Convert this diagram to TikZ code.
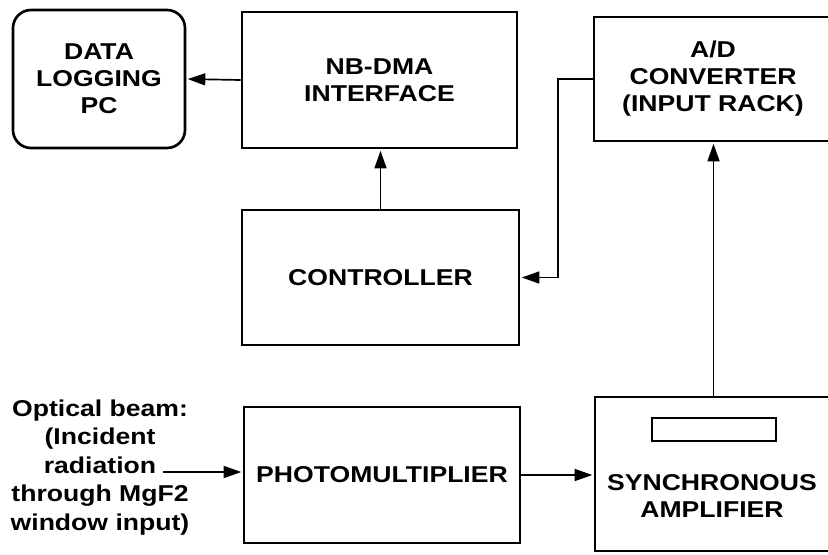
\documentclass[tikz,border=0pt]{standalone}
\usepackage{fontspec}
\setmainfont{Liberation Sans}[FakeStretch=1.16]
\usepackage{tikz}
\usetikzlibrary{shapes,arrows.meta,positioning,calc}

\begin{document}
\begin{tikzpicture}[
    box/.style={rectangle, draw, line width=1.9pt, align=center, font=\fontsize{16.3}{19.2}\selectfont\bfseries},
    pcbox/.style={box, rounded corners=0.45cm},
    display/.style={rectangle, draw, line width=1.4pt, minimum width=3.1cm, minimum height=0.575cm},
    caption/.style={align=center, font=\fontsize{16.3}{20.3}\selectfont\bfseries},
    arrow/.style={-{Triangle[length=12.5pt,width=8.5pt]}, line width=1.2pt, shorten >=1pt}
]
\useasboundingbox (0,0) rectangle (20.7,-13.85);

% Top row
\node[pcbox, minimum width=4.3cm, minimum height=3.45cm] (logpc) at (2.475,-1.975) {DATA\\LOGGING\\PC};
\node[box, minimum width=6.875cm, minimum height=3.4cm] (nbdma) at (9.4875,-2.0) {NB-DMA\\INTERFACE};
\node[box, minimum width=5.95cm, minimum height=3.1cm] (adconv) at (17.825,-1.975) {A/D\\CONVERTER\\(INPUT RACK)};

% Middle row
\node[box, minimum width=6.925cm, minimum height=3.375cm] (ctrl) at (9.5125,-6.9375) {CONTROLLER};

% Bottom row
\node[caption] (beam) at (2.5,-11.68) {Optical beam:\\(Incident\\radiation\hspace{2.2cm}\\through MgF2\\window input)};
\coordinate (beamin) at (4.075,-11.8);
\node[box, minimum width=6.9cm, minimum height=3.4cm] (pmt) at (9.55,-11.875) {PHOTOMULTIPLIER};
\node[box, minimum width=5.925cm, minimum height=3.85cm] (syncamp) at (17.8375,-11.85) {};
\node[display] (syncdisp) at (17.85,-10.7375) {};
\node[caption, font=\fontsize{16.3}{19.2}\selectfont\bfseries] (synclabel) at (17.8,-12.4) {SYNCHRONOUS\\AMPLIFIER};

% Arrows
\draw[arrow] (nbdma.west) -- (logpc.east);
\draw[arrow] (ctrl.north) -- (ctrl.north |- nbdma.south);
\draw[arrow] (adconv.west) -- ++(-0.875,0) |- (ctrl.east);
\draw[arrow] (syncamp.north) -- (syncamp.north |- adconv.south);
\draw[arrow] (pmt.east) -- (pmt.east -| syncamp.west);
\draw[arrow] (beamin) -- (beamin -| pmt.west);

\end{tikzpicture}
\end{document}
